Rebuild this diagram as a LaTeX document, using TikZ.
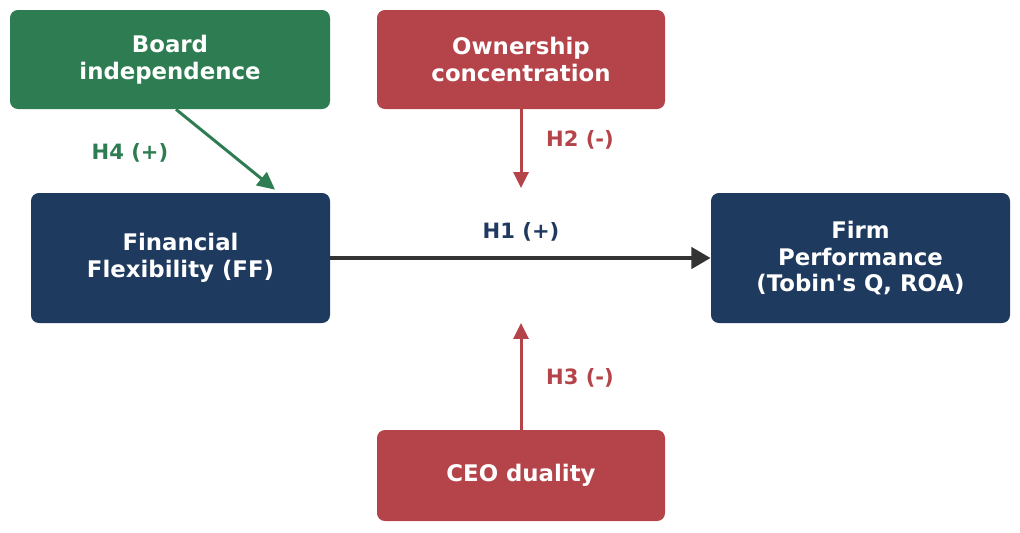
\documentclass[tikz,border=0pt]{standalone}
\usepackage{fontspec}
\setmainfont{DejaVu Sans}
\usetikzlibrary{arrows.meta}

\definecolor{boardgreen}{HTML}{2E7D52}
\definecolor{ownred}{HTML}{B5444A}
\definecolor{ffnavy}{HTML}{1E3A5F}
\definecolor{arrowgray}{HTML}{333333}

\begin{document}
\begin{tikzpicture}[x=0.02cm,y=-0.02cm]
\tikzstyle{box}=[rounded corners=4.5pt, text=white, align=center, inner sep=0pt,
  font=\fontsize{13}{15.3}\selectfont\bfseries]
\tikzstyle{hlabel}=[font=\fontsize{12}{13}\selectfont\bfseries]
\useasboundingbox (0,0) rectangle (1020,532);
% boxes
\node[box, fill=boardgreen, minimum width=320*0.02cm, minimum height=99*0.02cm] (board) at (170,59.5) {Board\\independence};
\node[box, fill=ownred, minimum width=288*0.02cm, minimum height=99*0.02cm] (own) at (521,59.5) {Ownership\\concentration};
\node[box, fill=ffnavy, minimum width=299*0.02cm, minimum height=130*0.02cm] (ff) at (180.5,258) {Financial\\Flexibility (FF)};
\node[box, fill=ffnavy, minimum width=299*0.02cm, minimum height=130*0.02cm] (perf) at (860.5,258) {Firm\\Performance\\(Tobin\textquotesingle s Q, ROA)};
\node[box, fill=ownred, minimum width=288*0.02cm, minimum height=91*0.02cm] (ceo) at (521,475.5) {CEO duality};
% free ends
\coordinate (h2end) at (521,188);
\coordinate (h3end) at (521,323);
% arrows
\draw[arrowgray, line width=2.5pt, -{Triangle[length=11pt,width=12pt]}] (ff.east) -- (perf.west);
\draw[ownred, line width=1.7pt, -{Triangle[length=9pt,width=8.5pt]}] (own.south) -- (h2end);
\draw[ownred, line width=1.7pt, -{Triangle[length=9pt,width=8.5pt]}] (ceo.north) -- (h3end);
\draw[boardgreen, line width=1.7pt, -{Triangle[length=10pt,width=9.5pt]}] ([xshift=6*0.02cm]board.south) -- ([xshift=94.5*0.02cm,yshift=3*0.02cm]ff.north);
% labels
\node[hlabel, text=boardgreen] (h4) at (130,153) {H4 (+)};
\node[hlabel, text=ownred] (h2) at (580,140) {H2 (-)};
\node[hlabel, text=ffnavy] (h1) at (521,232) {H1 (+)};
\node[hlabel, text=ownred] (h3) at (580,378) {H3 (-)};
\end{tikzpicture}
\end{document}
